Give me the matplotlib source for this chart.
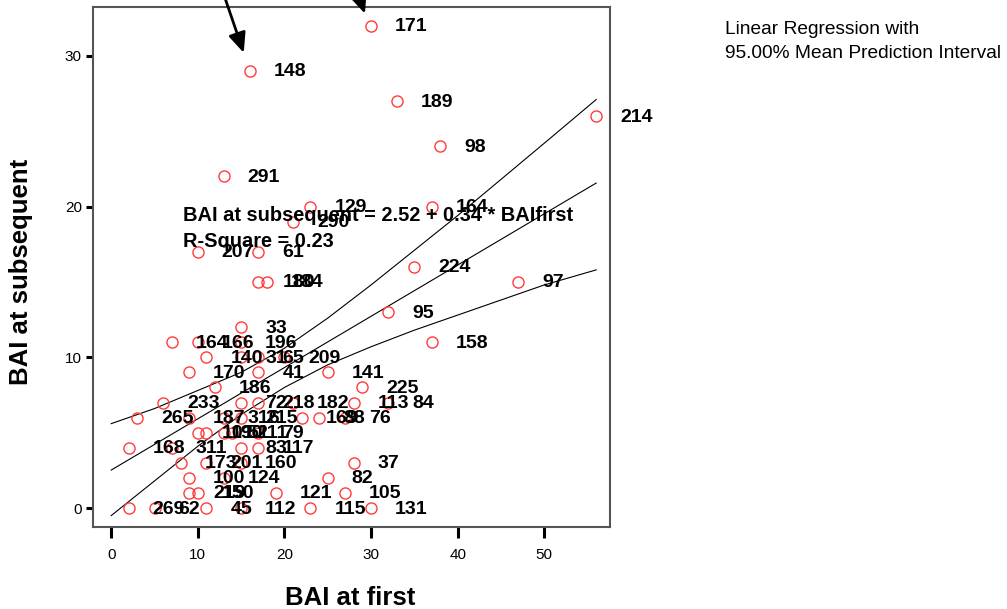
import matplotlib
matplotlib.use("Agg")
import matplotlib.pyplot as plt
import numpy as np

plt.rcParams['font.family'] = ['Liberation Sans', 'DejaVu Sans']

# case values: BAI at first / BAI at subsequent / case id
bai_first = [30, 16, 33, 56, 38, 13, 23, 37, 21, 10, 17, 17, 18, 35, 47, 32, 15, 37,
             7, 10, 15, 11, 15, 17, 20, 9, 17, 25, 12, 29, 6, 15, 17, 21, 28, 32,
             3, 9, 13, 15, 22, 24, 27, 10, 11, 13, 14, 17, 2, 7, 15, 17,
             8, 11, 15, 28, 9, 13, 25, 9, 10, 19, 27, 2, 5, 11, 15, 23, 30]
bai_subsequent = [32, 29, 27, 26, 24, 22, 20, 20, 19, 17, 17, 15, 15, 16, 15, 13, 12, 11,
                  11, 11, 11, 10, 10, 10, 10, 9, 9, 9, 8, 8, 7, 7, 7, 7, 7, 7,
                  6, 6, 6, 6, 6, 6, 6, 5, 5, 5, 5, 5, 4, 4, 4, 4,
                  3, 3, 3, 3, 2, 2, 2, 1, 1, 1, 1, 0, 0, 0, 0, 0, 0]
case_ids = ['171', '148', '189', '214', '98', '291', '129', '164', '290', '207', '61', '180',
            '184', '224', '97', '95', '33', '158', '164', '166', '196', '140', '31', '65',
            '209', '170', '41', '141', '186', '225', '233', '72', '218', '182', '113', '84',
            '265', '187', '316', '215', '169', '88', '76', '101', '190', '51', '211', '79',
            '168', '311', '83', '117', '173', '201', '160', '37', '100', '124', '82',
            '219', '150', '121', '105', '269', '62', '45', '112', '115', '131']

# fitted line and 95% band, as printed /
reg_intercept = 2.52
reg_slope = 0.34
reg_range = [0, 56]
band_x = [0, 5, 10, 15, 20, 25, 30, 35, 40, 45, 50, 56]
band_upper = [5.6, 6.6, 7.8, 9.0, 10.6, 12.6, 14.8, 17.1, 19.4, 21.8, 24.2, 27.1]
band_lower = [-0.5, 1.8, 4.1, 6.2, 8.0, 9.5, 10.7, 11.8, 12.8, 13.8, 14.8, 15.8]

x_ticks = [0, 10, 20, 30, 40, 50]
y_ticks = [0, 10, 20, 30]

fig = plt.figure(figsize=(10.07, 6.09), dpi=100)
ax = fig.add_axes([0.0924, 0.1346, 0.5134, 0.8539])

# regression line + band
rx = np.array(reg_range, dtype=float)
ax.plot(rx, reg_intercept + reg_slope * rx, color='black', lw=0.8, zorder=2)
ax.plot(band_x, band_upper, color='black', lw=0.8, zorder=2)
ax.plot(band_x, band_lower, color='black', lw=0.8, zorder=2)

# points
ax.plot(bai_first, bai_subsequent, linestyle='none', marker='o', markersize=8,
        markerfacecolor='none', markeredgecolor='#ff3b3b', markeredgewidth=1.0, zorder=3)

for x, y, lab in zip(bai_first, bai_subsequent, case_ids):
    ax.annotate(lab, (x, y), xytext=(24, -1), textcoords='offset pixels',
                ha='left', va='center', fontsize=14, fontweight='bold', zorder=4)

# fit equation
ax.text(8.3, 19.4, 'BAI at subsequent = 2.52 + 0.34 * BAIfirst', fontsize=14.4,
        fontweight='bold', ha='left', va='center', zorder=5)
ax.text(8.3, 17.7, 'R-Square = 0.23', fontsize=14.4, fontweight='bold',
        ha='left', va='center', zorder=5)

# the two arrows at the top
arrow_style = dict(arrowstyle='-|>,head_length=0.8,head_width=0.35', color='black',
                   lw=2, mutation_scale=15, shrinkA=0, shrinkB=0)
ax.annotate('', xy=(15.3, 30.2), xytext=(12.8, 34.4), arrowprops=arrow_style,
            annotation_clip=False)
ax.annotate('', xy=(29.3, 32.8), xytext=(26.4, 37.5), arrowprops=arrow_style,
            annotation_clip=False)

ax.set_xlim(-2.1, 57.6)
ax.set_ylim(-1.26, 33.24)
ax.set_xticks(x_ticks)
ax.set_yticks(y_ticks)
ax.tick_params(axis='x', direction='out', length=8, width=2.2, labelsize=11, pad=7)
ax.tick_params(axis='y', direction='out', length=5, width=2.2, labelsize=11, pad=3)
for s in ax.spines.values():
    s.set_color('#555555')
    s.set_linewidth(1.5)

ax.set_xlabel('BAI at first', fontsize=18.5, fontweight='bold')
ax.set_ylabel('BAI at subsequent', fontsize=18.5, fontweight='bold')
ax.xaxis.set_label_coords(0.497, -0.113)
ax.yaxis.set_label_coords(-0.116, 0.49)

fig.text(725 / 1007, 1 - 30 / 609, 'Linear Regression with', fontsize=13.8,
         ha='left', va='center')
fig.text(725 / 1007, 1 - 54 / 609, '95.00% Mean Prediction Interval', fontsize=13.8,
         ha='left', va='center')

fig.savefig('out.png', dpi=100)
